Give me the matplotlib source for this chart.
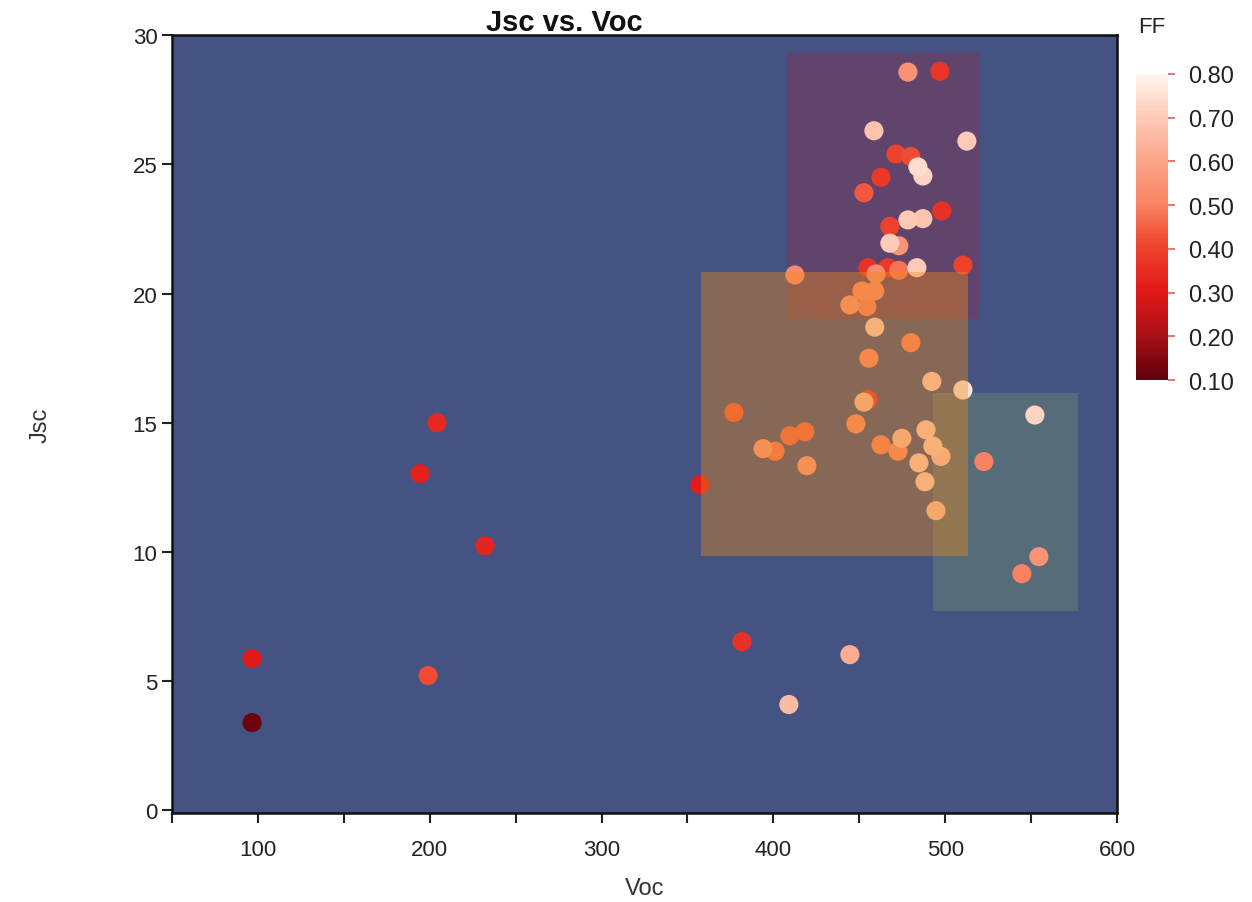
import matplotlib
matplotlib.use("Agg")
import matplotlib.pyplot as plt
from matplotlib.colors import LinearSegmentedColormap, Normalize
from matplotlib.patches import Rectangle
from matplotlib.ticker import MultipleLocator
import numpy as np

plt.rcParams["font.family"] = ["Liberation Sans", "DejaVu Sans"]

# Device data: open-circuit voltage, short-circuit current density, fill factor
voc = [96.6, 96.6, 199.0, 194.3, 204.2, 232.1, 357.2, 381.7, 409.0, 444.5,
       412.5, 455.0, 466.6, 473.0, 483.5, 510.3, 459.7, 459.0, 451.5, 444.5,
       454.4, 459.0, 480.0, 455.6, 492.2, 510.3, 455.0, 452.7, 552.2, 377.0,
       418.3, 409.6, 448.0, 488.8, 474.8, 462.6, 472.5, 394.0, 401.0, 492.8,
       497.5, 522.5, 419.5, 484.7, 488.2, 494.6, 544.6, 554.5,
       478.3, 496.9, 458.5, 512.6, 471.3, 480.0, 484.1, 487.0, 462.6, 452.7,
       498.0, 478.3, 487.0, 467.8, 467.8, 473.0]
jsc = [3.40, 5.88, 5.22, 13.03, 15.0, 10.24, 12.6, 6.53, 4.10, 6.03,
       20.72, 21.0, 21.0, 20.9, 21.0, 21.1, 20.76, 20.1, 20.1, 19.56,
       19.5, 18.7, 18.1, 17.5, 16.6, 16.27, 15.9, 15.8, 15.3, 15.4,
       14.65, 14.5, 14.96, 14.73, 14.4, 14.15, 13.9, 14.0, 13.9, 14.1,
       13.7, 13.5, 13.34, 13.45, 12.72, 11.6, 9.16, 9.82,
       28.57, 28.6, 26.3, 25.9, 25.4, 25.3, 24.9, 24.55, 24.5, 23.9,
       23.2, 22.85, 22.9, 22.6, 21.95, 21.85]
ff = [0.12, 0.30, 0.42, 0.32, 0.34, 0.33, 0.31, 0.36, 0.66, 0.62,
      0.52, 0.36, 0.38, 0.48, 0.70, 0.40, 0.52, 0.52, 0.52, 0.55,
      0.50, 0.70, 0.50, 0.52, 0.70, 0.76, 0.38, 0.65, 0.72, 0.44,
      0.46, 0.46, 0.52, 0.70, 0.66, 0.50, 0.52, 0.56, 0.48, 0.70,
      0.68, 0.50, 0.56, 0.70, 0.70, 0.66, 0.50, 0.55,
      0.55, 0.37, 0.68, 0.70, 0.40, 0.42, 0.74, 0.72, 0.38, 0.44,
      0.36, 0.70, 0.68, 0.40, 0.70, 0.55]

# Highlighted regions: (voc_min, voc_max, jsc_min, jsc_max)
region_teal = (493, 577, 7.7, 16.15)
region_purple = (408, 520, 19.0, 29.3)
region_orange = (358, 513, 9.85, 20.85)

ff_colors = ["#5e000a", "#a81018", "#e01818", "#f04a32", "#f98262",
             "#fba488", "#fdcab6", "#fff4ee"]
ff_cmap = LinearSegmentedColormap.from_list(
    "ff", list(zip([0, 1/7, 2/7, 3.2/7, 4/7, 5/7, 6/7, 1], ff_colors)))
norm = Normalize(vmin=0.1, vmax=0.8)

fig = plt.figure(figsize=(12.52, 9.03), dpi=100)
ax = fig.add_axes([0.1374, 0.0985, 0.7548, 0.8615])
ax.set_facecolor("#445381")

def add_region(r, color, alpha, z):
    ax.add_patch(Rectangle((r[0], r[2]), r[1] - r[0], r[3] - r[2],
                           facecolor=color, alpha=alpha, edgecolor="none", zorder=z))

add_region(region_teal, "#76936f", 0.4, 1)
add_region(region_purple, "#8f2f4a", 0.4, 1)

order = np.argsort(ff, kind="stable")
sc = ax.scatter(np.array(voc)[order], np.array(jsc)[order], c=np.array(ff)[order],
                cmap=ff_cmap, norm=norm, s=190, edgecolors="none", zorder=2)

add_region(region_orange, "#ee8918", 0.4, 3)

ax.set_xlim(50, 600)
ax.set_ylim(-0.1, 30)
ax.xaxis.set_major_locator(MultipleLocator(100))
ax.xaxis.set_minor_locator(MultipleLocator(50))
ax.yaxis.set_major_locator(MultipleLocator(5))
ax.tick_params(axis="both", which="both", direction="out", length=7, width=1.5,
               colors="#222222", labelsize=16)
ax.tick_params(axis="x", pad=12)
for s in ax.spines.values():
    s.set_linewidth(1.8)
    s.set_color("#111111")

ax.set_xlabel("Voc", fontsize=17, color="#333333", labelpad=12)
ax.set_ylabel("Jsc", fontsize=17, color="#333333", labelpad=58)
fig.text(0.451, 0.959, "Jsc vs. Voc", fontsize=21, fontweight="bold",
         ha="center", va="bottom", color="#111111")

# FF colour scale
cax = fig.add_axes([0.907, 0.578, 0.0256, 0.339])
cb = fig.colorbar(sc, cax=cax)
cb.set_ticks(np.arange(0.1, 0.81, 0.1))
cb.ax.set_yticklabels([f"{v:.2f}" for v in np.arange(0.1, 0.81, 0.1)])
cb.outline.set_visible(False)
cb.ax.tick_params(length=5, width=1.2, color="#e06060", labelsize=17,
                  labelcolor="#222222", pad=10)
fig.text(0.909, 0.958, "FF", fontsize=16, color="#222222", ha="left", va="bottom")

fig.savefig("out.png", dpi=100, facecolor="white")
